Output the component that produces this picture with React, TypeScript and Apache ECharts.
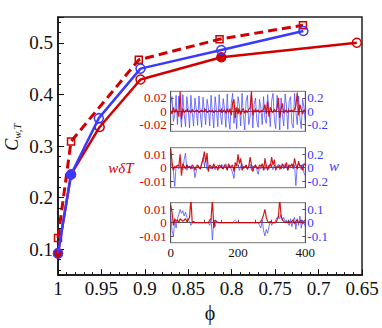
import React, { useEffect, useRef } from "react";
import * as echarts from "echarts";

// ---- main chart data ----
const phiRed = [1.0, 0.985, 0.952, 0.905, 0.812, 0.656];
const cRed = [0.092, 0.245, 0.337, 0.429, 0.472, 0.5];
const phiBlue = [1.0, 0.985, 0.953, 0.905, 0.812, 0.7175];
const cBlue = [0.092, 0.245, 0.354, 0.45, 0.486, 0.523];
const phiDash = [1.0, 0.985, 0.907, 0.814, 0.718];
const cDash = [0.122, 0.309, 0.467, 0.507, 0.534];
const filledRed = [0, 4];
const filledBlue = [1];

// ---- inset time series (sampled every 4 time units, t = 0..400) ----
const T_STEP = 4;
const in1Blue = [
  0.1, 0.22, -0.15, -0.05, 0.24, -0.2,
  0.23, 0.02, -0.24, 0.25, -0.03, -0.23, 0.22, 0.04, -0.25, 0.24, -0.02, -0.22,
  0.2, 0.03, -0.21, 0.23, -0.04, -0.24, 0.21, 0.0, -0.2, 0.18, 0.05, -0.22,
  0.24, -0.03, -0.25, 0.22, 0.02, -0.23, 0.25, -0.05, -0.2, 0.19, 0.03, -0.24,
  0.26, -0.1, -0.27, 0.12, 0.27, -0.18, 0.05, -0.26, 0.22, 0.1, -0.22, 0.27, -0.05, -0.28, 0.15, 0.24, -0.2, -0.08, 0.26, -0.25, 0.1,
  0.2, -0.15, -0.24, 0.18, 0.05, -0.2, 0.22, -0.1, -0.18, 0.25, 0.0, -0.23, 0.16,
  0.27, -0.12, -0.26, 0.24, 0.1, -0.28, 0.2, -0.05, -0.22, 0.26, 0.08, -0.27, 0.15, 0.22, -0.18, -0.25, 0.27, 0.0, -0.2, 0.23, -0.1, -0.26, 0.18, 0.06, -0.15,
];
const in1Red = [
  0.001, -0.004, 0.006, -0.002, 0.003, -0.001, -0.008, 0.03, -0.012, 0.004,
  -0.002, 0.001, 0.002, -0.001, 0.001, -0.002, 0.003, 0.0, -0.001, 0.002,
  0.001, -0.002, 0.0, 0.002, -0.001, 0.001, 0.003, -0.002, 0.0, 0.001,
  -0.001, 0.002, -0.002, 0.001, 0.0, -0.001, 0.002, 0.001, -0.002, 0.001,
  0.002, -0.003, 0.004, -0.002, 0.004, -0.006, 0.012, 0.018, -0.01, 0.006,
  -0.004, 0.003, -0.005, 0.002, 0.004, -0.003, 0.001, -0.002, 0.003, 0.005,
  0.03, -0.006, 0.002, -0.001, 0.001, 0.002, -0.002, 0.001, 0.0, 0.003,
  0.01, -0.004, 0.015, -0.008, 0.006, 0.0, -0.002, 0.003, -0.001, 0.004,
  0.02, -0.01, 0.004, 0.012, -0.003, 0.001, 0.002, -0.002, 0.001, 0.0,
  0.002, -0.001, 0.003, 0.008, 0.028, -0.006, 0.01, 0.003, -0.004, 0.002,
  0.001,
];
const in2Red = [
  0.014, 0.004, -0.002, 0.001, 0.0, 0.002, 0.001, 0.01, -0.006, 0.003,
  0.001, -0.001, 0.002, 0.0, 0.001, -0.001, 0.002, 0.001, -0.002, 0.001,
  0.002, 0.0, -0.001, 0.003, 0.006, 0.012, 0.004, 0.011, -0.003, 0.002,
  0.001, -0.001, 0.003, 0.0, 0.001, -0.002, 0.002, 0.001, 0.0, -0.001,
  0.002, 0.001, -0.002, 0.003, 0.0, 0.001, 0.002, -0.003, 0.004, 0.001,
  0.01, 0.003, 0.007, -0.002, 0.001, 0.0, 0.002, -0.001, 0.001, 0.008,
  0.002, -0.003, 0.001, 0.002, 0.0, -0.001, 0.002, 0.001, 0.003, -0.002,
  0.007, 0.001, -0.002, 0.002, 0.001, 0.008, 0.002, 0.006, -0.002, 0.001,
  0.0, 0.002, -0.001, 0.003, 0.001, 0.0, 0.004, -0.002, 0.002, 0.001,
  0.003, 0.0, 0.007, 0.002, -0.001, 0.005, 0.001, 0.002, -0.002, 0.003,
  0.002,
];
const in2Blue = [
  0.08, 0.02, -0.05, -0.28, 0.03, 0.01, -0.02, 0.04, 0.0, -0.03,
  0.12, 0.22, -0.04, 0.02, 0.0, 0.03, -0.02, 0.01, -0.15, -0.05,
  0.03, 0.02, -0.02, 0.06, 0.15, 0.04, 0.12, -0.03, 0.01, 0.0,
  -0.02, 0.03, 0.01, -0.03, 0.02, 0.04, -0.01, 0.02, 0.05, -0.02,
  0.03, 0.06, -0.03, 0.02, 0.04, -0.02, -0.08, -0.16, 0.02, 0.05,
  0.03, -0.04, 0.02, 0.06, -0.02, 0.01, 0.04, -0.03, 0.02, 0.05,
  -0.04, 0.03, 0.0, 0.02, -0.03, -0.1, 0.01, -0.02, 0.04, 0.02,
  -0.03, 0.05, 0.02, -0.02, 0.06, 0.03, -0.03, 0.04, 0.0, 0.02,
  0.05, -0.03, 0.02, 0.04, -0.02, 0.06, 0.01, -0.04, 0.03, 0.02,
  0.05, -0.02, 0.04, -0.27, 0.03, 0.06, 0.02, -0.03, 0.05, -0.08,
  -0.12,
];
const in3Red = [
  0.013, 0.008, -0.002, 0.003, 0.001, 0.002, 0.0, 0.003, 0.002, 0.001,
  0.002, 0.003, 0.001, 0.002, 0.004, 0.018, 0.0, 0.001, 0.0, 0.0,
  0.0, 0.0, 0.0, 0.0, 0.0, 0.0, 0.0, 0.0, 0.0, 0.002,
  0.003, 0.018, -0.004, 0.002, 0.001, 0.0, 0.0, 0.0, 0.0, 0.0,
  0.0, 0.0, 0.0, 0.0, 0.0, 0.0, 0.0, 0.0, 0.0, 0.0,
  0.0, 0.0, 0.0, 0.0, 0.0, 0.0, 0.0, 0.0, 0.0, 0.0,
  0.0, 0.0, 0.0, 0.0, 0.0, 0.0, 0.0, 0.001, 0.003, 0.006,
  0.01, 0.004, 0.001, 0.0, 0.001, 0.0, 0.0, 0.0, 0.0, 0.002,
  0.004, 0.018, 0.005, 0.002, 0.001, 0.0, 0.001, 0.0, 0.001, 0.0,
  0.001, 0.002, -0.001, 0.001, 0.002, 0.0, 0.001, 0.002, -0.001, 0.001,
  0.002,
];
const in3Blue = [
  0.05, -0.06, -0.1, 0.02, -0.04, 0.03, 0.06, 0.1, 0.07, 0.09,
  0.05, 0.08, 0.04, 0.02, 0.01, -0.02, 0.0, 0.0, 0.0, 0.0,
  0.0, 0.0, 0.0, 0.0, 0.0, 0.0, 0.0, 0.0, 0.0, -0.02,
  0.03, -0.13, 0.02, -0.03, 0.01, 0.0, 0.0, 0.0, 0.0, 0.0,
  0.0, 0.0, 0.0, 0.0, 0.0, 0.0, 0.0, 0.01, 0.02, 0.01,
  0.0, 0.0, 0.0, 0.0, 0.0, 0.0, 0.0, 0.0, 0.0, 0.0,
  0.0, 0.0, 0.0, 0.0, 0.0, 0.0, -0.02, -0.04, 0.02, -0.06,
  -0.1, -0.05, -0.08, -0.03, 0.01, -0.02, 0.0, 0.0, 0.02, 0.04,
  0.05, 0.03, 0.06, 0.02, 0.04, 0.01, 0.02, 0.0, -0.02, 0.03,
  -0.03, 0.02, 0.04, -0.05, 0.03, -0.02, 0.05, -0.04, 0.02, 0.0,
  -0.03,
];

const RED = "#d00000";
const BLUE = "#3a3aff";
const SERIF = '"Liberation Serif", "Times New Roman", serif';

const fmtStep = (step: number) => (v: number) => {
  const k = v / step;
  if (Math.abs(k - Math.round(k)) > 1e-6) return "";
  if (Math.abs(v) < 1e-12) return "0";
  return String(+v.toFixed(4));
};

const INSET_LEFT = 170.7;
const INSET_W = 134.6;
const INSET_H = 40;
const insetTops = [91.3, 147.7, 202.7];

function buildOption() {
  const grids: any[] = [
    { left: 58, right: 20, top: 17, bottom: 50, show: true, borderColor: "#222", borderWidth: 1.5 },
  ];
  insetTops.forEach((top) =>
    grids.push({
      left: INSET_LEFT, width: INSET_W, top, height: INSET_H,
      show: true, borderColor: "#777", borderWidth: 1, backgroundColor: "#fff",
    })
  );

  const xAxes: any[] = [
    {
      gridIndex: 0, type: "value", min: 0.65, max: 1, interval: 0.05, inverse: true,
      name: "ϕ", nameLocation: "middle", nameGap: 27,
      nameTextStyle: { fontFamily: SERIF, fontSize: 20, color: "#111" },
      axisLine: { show: true, lineStyle: { color: "#111", width: 1.5 } },
      axisTick: { show: true, inside: true, length: 6, lineStyle: { color: "#111" } },
      minorTick: { show: true, splitNumber: 5, length: 3, lineStyle: { color: "#111" } },
      splitLine: { show: false },
      axisLabel: {
        fontFamily: SERIF, fontSize: 19, color: "#111", margin: 4,
        formatter: (v: number) => String(+v.toFixed(2)),
      },
    },
  ];
  insetTops.forEach((_, i) =>
    xAxes.push({
      gridIndex: i + 1, type: "value", min: 0, max: 400, interval: 50,
      axisLine: { show: true, lineStyle: { color: "#555", width: 1 } },
      axisTick: { show: true, inside: true, length: 3, lineStyle: { color: "#555" } },
      splitLine: { show: false },
      axisLabel: {
        show: i === 2, fontFamily: SERIF, fontSize: 13, color: "#111", margin: 3,
        formatter: (v: number) => (v % 200 === 0 ? String(v) : ""),
      },
    })
  );

  const yAxes: any[] = [
    {
      gridIndex: 0, type: "value", min: 0.05, max: 0.55, splitNumber: 5,
      axisLine: { show: true, lineStyle: { color: "#111", width: 1.5 } },
      axisTick: { show: true, inside: true, length: 6, lineStyle: { color: "#111" } },
      minorTick: { show: true, splitNumber: 5, length: 3, lineStyle: { color: "#111" } },
      splitLine: { show: false },
      axisLabel: {
        fontFamily: SERIF, fontSize: 19, color: "#111", margin: 5,
        showMinLabel: false, showMaxLabel: false, formatter: fmtStep(0.1),
      },
    },
  ];
  const leftRanges = [0.03, 0.015, 0.015];
  const leftSteps = [0.02, 0.01, 0.01];
  const rightRanges = [0.3, 0.3, 0.15];
  const rightSteps = [0.2, 0.2, 0.1];
  insetTops.forEach((_, i) => {
    yAxes.push({
      gridIndex: i + 1, type: "value", position: "left",
      min: -leftRanges[i], max: leftRanges[i], splitNumber: 3,
      axisLine: { show: true, lineStyle: { color: "#555", width: 1 } },
      axisTick: { show: true, inside: true, length: 3, lineStyle: { color: "#555" } },
      splitLine: { show: false },
      axisLabel: {
        fontFamily: SERIF, fontSize: 13, lineHeight: 11, color: RED, margin: 4,
        showMinLabel: false, showMaxLabel: false, formatter: fmtStep(leftSteps[i]),
      },
    });
    yAxes.push({
      gridIndex: i + 1, type: "value", position: "right",
      min: -rightRanges[i], max: rightRanges[i], splitNumber: 3,
      axisLine: { show: true, lineStyle: { color: "#555", width: 1 } },
      axisTick: { show: true, inside: true, length: 3, lineStyle: { color: "#555" } },
      splitLine: { show: false },
      axisLabel: {
        fontFamily: SERIF, fontSize: 13, lineHeight: 11, color: BLUE, margin: 2,
        showMinLabel: false, showMaxLabel: false, formatter: fmtStep(rightSteps[i]),
      },
    });
  });

  const pts = (xs: number[], ys: number[], filled: number[], color: string) =>
    ys.map((y, i) => ({
      value: [xs[i], y],
      itemStyle: filled.includes(i) ? { color } : undefined,
    }));
  const ts = (vals: number[]) => vals.map((v, i) => [i * T_STEP, v]);

  const series: any[] = [
    {
      type: "line", xAxisIndex: 0, yAxisIndex: 0, z: 2,
      data: pts(phiRed, cRed, filledRed, RED),
      symbol: "circle", symbolSize: 9,
      lineStyle: { color: RED, width: 2.5 },
      itemStyle: { color: "rgba(0,0,0,0)", borderColor: RED, borderWidth: 1.5 },
    },
    {
      type: "line", xAxisIndex: 0, yAxisIndex: 0, z: 3,
      data: pts(phiDash, cDash, [], RED),
      symbol: "rect", symbolSize: 7,
      lineStyle: { color: RED, width: 3, type: [9, 5] },
      itemStyle: { color: "rgba(0,0,0,0)", borderColor: RED, borderWidth: 1.5 },
    },
    {
      type: "line", xAxisIndex: 0, yAxisIndex: 0, z: 4,
      data: pts(phiBlue, cBlue, filledBlue, BLUE),
      symbol: "circle", symbolSize: 9,
      lineStyle: { color: BLUE, width: 2.5 },
      itemStyle: { color: "rgba(0,0,0,0)", borderColor: BLUE, borderWidth: 1.5 },
    },
  ];
  const insetData = [
    [in1Red, in1Blue],
    [in2Red, in2Blue],
    [in3Red, in3Blue],
  ];
  insetData.forEach(([r, b], i) => {
    series.push({
      type: "line", xAxisIndex: i + 1, yAxisIndex: 2 * i + 2, z: 5,
      data: ts(b), symbol: "none",
      lineStyle: { color: "#4a4aff", width: 1, opacity: 0.75 },
    });
    series.push({
      type: "line", xAxisIndex: i + 1, yAxisIndex: 2 * i + 1, z: 6,
      data: ts(r), symbol: "none",
      lineStyle: { color: RED, width: 1.2, opacity: 0.9 },
    });
  });

  return {
    animation: false,
    backgroundColor: "#fff",
    grid: grids,
    xAxis: xAxes,
    yAxis: yAxes,
    series,
    graphic: [
      {
        type: "text", x: 12, y: 137, rotation: Math.PI / 2,
        style: {
          text: "{c|C}{s|w,T}",
          align: "center", verticalAlign: "middle",
          rich: {
            c: { fontFamily: SERIF, fontStyle: "italic", fontSize: 18, fill: "#111", lineHeight: 20 },
            s: { fontFamily: SERIF, fontStyle: "italic", fontSize: 11, fill: "#111", verticalAlign: "bottom", lineHeight: 13 },
          },
        },
      },
      {
        type: "text", x: 121, y: 168,
        style: {
          text: "wδT", fontFamily: SERIF, fontStyle: "italic", fontSize: 15, fill: RED,
          align: "center", verticalAlign: "middle",
        },
      },
      {
        type: "text", x: 334, y: 166,
        style: {
          text: "w", fontFamily: SERIF, fontStyle: "italic", fontSize: 15, fill: BLUE,
          align: "center", verticalAlign: "middle",
        },
      },
    ],
  };
}

export default function App() {
  const ref = useRef<HTMLDivElement>(null);
  useEffect(() => {
    if (!ref.current) return;
    const chart = echarts.init(ref.current, null, { renderer: "svg" });
    chart.setOption(buildOption() as any);
    return () => chart.dispose();
  }, []);
  return (
    <div
      ref={ref}
      style={{ position: "absolute", left: 0, top: 0, width: 382, height: 328 }}
    />
  );
}
